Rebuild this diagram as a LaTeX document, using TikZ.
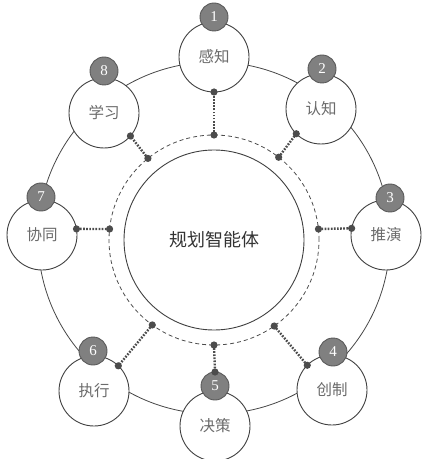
\documentclass[tikz,border=0pt]{standalone}
\usepackage{fontspec}
\setmainfont{Liberation Serif}
\newfontfamily\cjk{Noto Sans CJK SC}
\begin{document}
\begin{tikzpicture}[x=1bp,y=-1bp,
  ringline/.style={draw=black!72,line width=0.8bp,circle,inner sep=0pt,outer sep=0pt,minimum size=352bp},
  dashring/.style={draw=black!70,line width=0.8bp,dash pattern=on 4bp off 3bp,circle,inner sep=0pt,outer sep=0pt,minimum size=210bp},
  corebox/.style={draw=black!75,line width=0.9bp,circle,inner sep=0pt,outer sep=0pt,minimum size=180bp,font=\cjk\fontsize{18bp}{20bp}\selectfont,text=black!80},
  stagebox/.style={draw=black!75,fill=white,line width=0.9bp,circle,inner sep=0pt,outer sep=0pt,minimum size=70bp,font=\cjk\fontsize{15.5bp}{17bp}\selectfont,text=black!58},
  badge/.style={draw=black!65,fill=black!50,line width=0.9bp,circle,inner sep=0pt,outer sep=0pt,minimum size=28bp,font=\fontsize{15bp}{16bp}\selectfont,text=white},
  link/.style={draw=black!70,line width=2.4bp,dash pattern=on 1.7bp off 1.4bp},
  dotfill/.style={fill=black!70}
]
\useasboundingbox (0,0) rectangle (421,459);
\node[ringline] (ring) at (214,238) {};
\node[dashring] (dc) at (214,240) {};
\node[corebox] (core) at (214,240) {规划智能体};

\node[stagebox] (n1) at (214,57) {感知};
\node[stagebox] (n2) at (321,109) {认知};
\node[stagebox] (n3) at (386,235) {推演};
\node[stagebox] (n4) at (332,390) {创制};
\node[stagebox] (n5) at (215,426) {决策};
\node[stagebox] (n6) at (94,391) {执行};
\node[stagebox] (n7) at (42,235) {协同};
\node[stagebox] (n8) at (104,113) {学习};

\node[badge] (b1) at (214,17) {1};
\node[badge] (b2) at (322,69) {2};
\node[badge] (b3) at (390,198) {3};
\node[badge] (b4) at (333,352) {4};
\node[badge] (b5) at (215,386) {5};
\node[badge] (b6) at (93,351) {6};
\node[badge] (b7) at (41,197) {7};
\node[badge] (b8) at (104,71) {8};

\coordinate (i1) at (dc.90);
\coordinate (i2) at (dc.52);
\coordinate (i3) at (dc.6);
\coordinate (i4) at (dc.-55);
\coordinate (i5) at (dc.270);
\coordinate (i6) at (dc.234);
\coordinate (i7) at (dc.174);
\coordinate (i8) at (dc.129);

\coordinate (o1) at (n1.270);
\coordinate (o2) at (n2.225);
\coordinate (o3) at (n3.169);
\coordinate (o4) at (n4.135);
\coordinate (o5) at (b5.north);
\coordinate (o6) at (n6.46);
\coordinate (o7) at (n7.10);
\coordinate (o8) at (n8.319);

\foreach \k in {1,...,8}{
  \draw[link] (i\k) -- (o\k);
  \fill[dotfill] (i\k) circle (3.6bp);
  \fill[dotfill] (o\k) circle (3.6bp);
}
\end{tikzpicture}
\end{document}
